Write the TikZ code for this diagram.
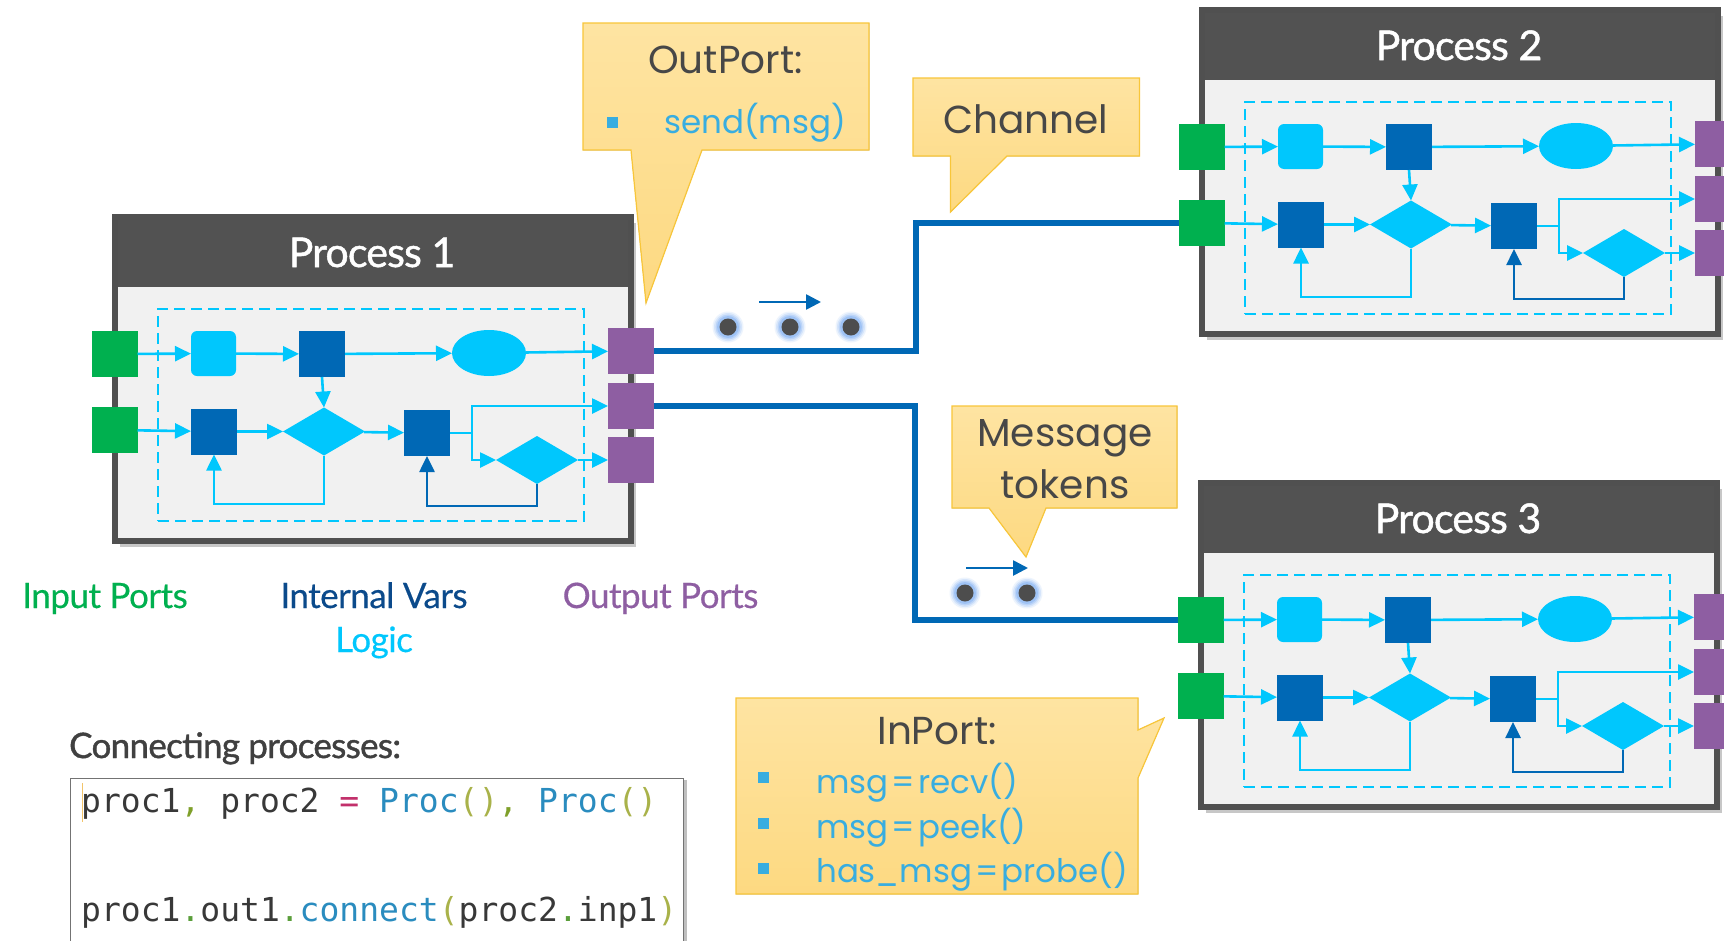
\documentclass[tikz,border=0pt]{standalone}
\usepackage{fontspec}
\setmainfont{Lato}
\newfontfamily\headfont{Lato}[FakeBold=1.2, LetterSpace=-2]
\newfontfamily\legendfont{Lato}[FakeBold=0.4, LetterSpace=-1.5]
\newfontfamily\calloutfont{Poppins}
\newfontfamily\codefont{DejaVu Sans Mono}
\usetikzlibrary{arrows.meta,shapes.geometric,shadows}

\definecolor{lblue}{HTML}{00C7FD}
\definecolor{dblue}{HTML}{0068B5}
\definecolor{portgreen}{HTML}{00B04F}
\definecolor{portpurple}{HTML}{8E5EA2}
\definecolor{framegray}{HTML}{505050}
\definecolor{headgray}{HTML}{525252}
\definecolor{bodygray}{HTML}{F1F1F1}
\definecolor{navytext}{HTML}{0B4A8B}
\definecolor{darktext}{HTML}{474747}
\definecolor{methodblue}{HTML}{38ADE0}
\definecolor{calltop}{HTML}{FEE4A2}
\definecolor{callbot}{HTML}{FDD981}
\definecolor{callline}{HTML}{F8C63A}
\definecolor{tokgray}{HTML}{4D4D4D}
\definecolor{glowblue}{HTML}{6FA6F2}
\definecolor{codeName}{HTML}{383838}
\definecolor{codePunct}{HTML}{7FA02A}
\definecolor{codeEq}{HTML}{C2306B}
\definecolor{codeCls}{HTML}{2A8CBF}
\definecolor{codePar}{HTML}{A9B24A}
\definecolor{codeDot}{HTML}{5A9E3A}
\definecolor{cursor}{HTML}{F2C46A}

\newcommand{\pxsize}[1]{\fontsize{#1}{#1}\selectfont}

\tikzset{
  procframe/.style={draw=framegray, line width=6pt, fill=bodygray,
    minimum width=516pt, minimum height=324pt, inner sep=0pt, outer sep=0pt,
    drop shadow={shadow xshift=5pt, shadow yshift=-6pt, fill=black, opacity=0.22}},
  prochead/.style={fill=headgray, minimum width=510pt, minimum height=67pt,
    inner sep=0pt, outer sep=0pt},
  proctitle/.style={text=white, font=\headfont\pxsize{41}, anchor=base, inner sep=0pt},
  logicbox/.style={draw=lblue, dash pattern=on 11pt off 6pt, line width=2.2pt,
    minimum width=426pt, minimum height=212pt, inner sep=0pt},
  inport/.style={fill=portgreen, minimum size=46pt, inner sep=0pt, outer sep=0pt},
  outport/.style={fill=portpurple, minimum size=46pt, inner sep=0pt, outer sep=0pt},
  varbox/.style={fill=dblue, minimum size=46pt, inner sep=0pt, outer sep=0pt},
  stagebox/.style={fill=lblue, rounded corners=6pt, minimum size=45pt, inner sep=0pt, outer sep=0pt},
  stateell/.style={ellipse, fill=lblue, minimum width=74pt, minimum height=46pt, inner sep=0pt, outer sep=0pt},
  choice/.style={diamond, fill=lblue, minimum width=82pt, minimum height=48pt, inner sep=0pt, outer sep=0pt},
  flow/.style={draw=lblue, line width=2.6pt, -{Triangle[length=16pt,width=15pt]}},
  backflow/.style={flow, draw=dblue},
  chan/.style={draw=dblue, line width=6.5pt, line join=miter},
  tokdir/.style={draw=dblue, line width=2.6pt, -{Triangle[length=15pt,width=15pt]}},
  token/.style={circle, fill=tokgray, minimum size=17pt, inner sep=0pt},
  callout/.style={top color=calltop, bottom color=callbot, draw=callline, line width=1.2pt},
  calltext/.style={text=darktext, font=\calloutfont\pxsize{39}, anchor=base, inner sep=0pt},
  methodtext/.style={text=methodblue, font=\calloutfont\pxsize{32.5}, anchor=base west, inner sep=0pt},
  bulletsq/.style={fill=methodblue, minimum size=11pt, inner sep=0pt},
  legend/.style={font=\legendfont\pxsize{35}, anchor=base, inner sep=0pt},
  codeline/.style={font=\codefont\pxsize{33}, anchor=base west, inner sep=0pt, text=codeName},
}

% One process: frame, title, ports and the internal logic graph.
% #1 name prefix, #2 shift, #3 title
\newcommand{\procunit}[3]{%
\begin{scope}[shift={#2}]
  \node[procframe] (#1-frame) at (373,379) {};
  \node[prochead] (#1-head) at (373,253.5) {};
  \node[proctitle] (#1-title) at (372,267) {#3};
  \node[logicbox] (#1-logic) at (371,415) {};
  \node[inport] (#1-g1) at (114.5,354) {};
  \node[inport] (#1-g2) at (114.5,430) {};
  \node[outport] (#1-o1) at (631,351) {};
  \node[outport] (#1-o2) at (631,406) {};
  \node[outport] (#1-o3) at (631,460) {};
  \node[stagebox] (#1-r) at (213.5,353.5) {};
  \node[varbox] (#1-d1) at (322,354) {};
  \node[stateell] (#1-e) at (489,353) {};
  \node[varbox] (#1-d2) at (214,431.5) {};
  \node[choice] (#1-k1) at (324,431.5) {};
  \node[varbox] (#1-d3) at (427,433) {};
  \node[choice] (#1-k2) at (537,460) {};
  \coordinate (#1-br) at (472,433);
  \coordinate (#1-lo1) at (0,504);
  \coordinate (#1-lo2) at (0,506);
  \draw[flow] (#1-g1) -- (#1-r);
  \draw[flow] (#1-r) -- (#1-d1);
  \draw[flow] (#1-d1) -- (#1-e);
  \draw[flow] (#1-e) -- (#1-o1);
  \draw[flow] (#1-d1.south) -- (#1-k1.north);
  \draw[flow] (#1-g2) -- (#1-d2);
  \draw[flow] (#1-d2) -- (#1-k1);
  \draw[flow] (#1-k1) -- (#1-d3);
  \draw[draw=lblue, line width=2.6pt] (#1-d3.east) -- (#1-br);
  \draw[flow] (#1-br) |- (#1-o2.west);
  \draw[flow] (#1-br) |- (#1-k2.west);
  \draw[flow] (#1-k2) -- (#1-o3);
  \draw[flow] (#1-k1.south) -- (#1-k1.south |- #1-lo1) -| (#1-d2.south);
  \draw[backflow] (#1-k2.south) -- (#1-k2.south |- #1-lo2) -| (#1-d3.south);
\end{scope}}

\begin{document}
\begin{tikzpicture}[x=1pt, y=-1pt]
\useasboundingbox (0,0) rectangle (1724,940);
\fill[white] (0,0) rectangle (1724,940);

% processes
\procunit{p1}{(0,0)}{Process 1}
\procunit{p2}{(1087,-207)}{Process 2}
\procunit{p3}{(1086,266)}{Process 3}

% channels
\coordinate (ch1) at (916,0);
\coordinate (ch2) at (915,0);
\draw[chan] (p1-o1.east) -| (ch1 |- p2-g2.west) -- (p2-g2.west);
\draw[chan] (p1-o2.east) -| (ch2 |- p3-g1.west) -- (p3-g1.west);

% message tokens travelling along the channels
\foreach \n/\tx/\ty in {t1/728/327, t2/790/327, t3/851/327, t4/965/593, t5/1027/593}{
  \coordinate (\n c) at (\tx,\ty);
  \foreach \r/\o in {15.5/0.12, 14/0.18, 12.5/0.26, 11/0.36}
    \fill[glowblue, opacity=\o] (\n c) circle (\r pt);
  \node[token] (\n) at (\n c) {};
}
\coordinate (f1a) at (759,302);
\coordinate (f1b) at (821,302);
\coordinate (f2a) at (966,568);
\coordinate (f2b) at (1028,568);
\draw[tokdir] (f1a) -- (f1b);
\draw[tokdir] (f2a) -- (f2b);

% callouts
\filldraw[callout] (583,23) -- (869,23) -- (869,150) -- (702,150) -- (646,303)
  -- (631,150) -- (583,150) -- cycle;
\node[calltext] (outport) at (725.5,73) {OutPort:};
\node[bulletsq] (ob1) at (612,122) {};
\node[methodtext] (send) at (664,133.5) {send(msg)};

\filldraw[callout] (913,78) -- (1139.5,78) -- (1139.5,156) -- (1007,156) -- (950.5,212)
  -- (950.5,156) -- (913,156) -- cycle;
\node[calltext] (channel) at (1026,133) {Channel};

\filldraw[callout] (952,406) -- (1177,406) -- (1177,508) -- (1046,508) -- (1026,557)
  -- (989,508) -- (952,508) -- cycle;
\node[calltext] (msgtok1) at (1065,446.5) {Message};
\node[calltext] (msgtok2) at (1065,498) {tokens};

\filldraw[callout] (736,698) -- (1138,698) -- (1138,730) -- (1164,718) -- (1138,778)
  -- (1138,894) -- (736,894) -- cycle;
\node[calltext] (inport) at (937,744) {InPort:};
\node[bulletsq] (ib1) at (763,777) {};
\node[bulletsq] (ib2) at (763,823) {};
\node[bulletsq] (ib3) at (763,868) {};
\node[methodtext] (recv) at (816,793) {msg\hspace{3pt}=\hspace{3pt}recv()};
\node[methodtext] (peek) at (816,838) {msg\hspace{3pt}=\hspace{3pt}peek()};
\node[methodtext] (probe) at (816,882) {has\_msg\hspace{3pt}=\hspace{3pt}probe()};

% legend
\node[legend, text=portgreen] (lg-in) at (105,608) {Input Ports};
\node[legend, text=navytext] (lg-vars) at (374,608) {Internal Vars};
\node[legend, text=lblue] (lg-logic) at (374,652) {Logic};
\node[legend, text=portpurple] (lg-out) at (660.5,608) {Output Ports};

% code sample
\node[legend, font=\headfont\pxsize{35}, text=darktext!90!black, anchor=base west] (codehead) at (69,758) {Connecting processes:};
\node[draw=black!55, line width=1.5pt, fill=white, anchor=north west,
  minimum width=613pt, minimum height=200pt, inner sep=0pt,
  drop shadow={shadow xshift=4pt, shadow yshift=-2pt, fill=black, opacity=0.25}]
  (codebox) at (69.5,777.5) {};
\draw[cursor, line width=1pt] (82,783) -- (82,822);
\node[codeline] (code1) at (81,812) {proc1{\color{codePunct},} proc2 {\color{codeEq}=} {\color{codeCls}Proc}{\color{codePar}()}{\color{codePunct},} {\color{codeCls}Proc}{\color{codePar}()}};
\node[codeline] (code2) at (81,921) {proc1{\color{codeDot}.}out1{\color{codeDot}.}{\color{codeCls}connect}{\color{codePar}(}proc2{\color{codeDot}.}inp1{\color{codePar})}};
\end{tikzpicture}
\end{document}
